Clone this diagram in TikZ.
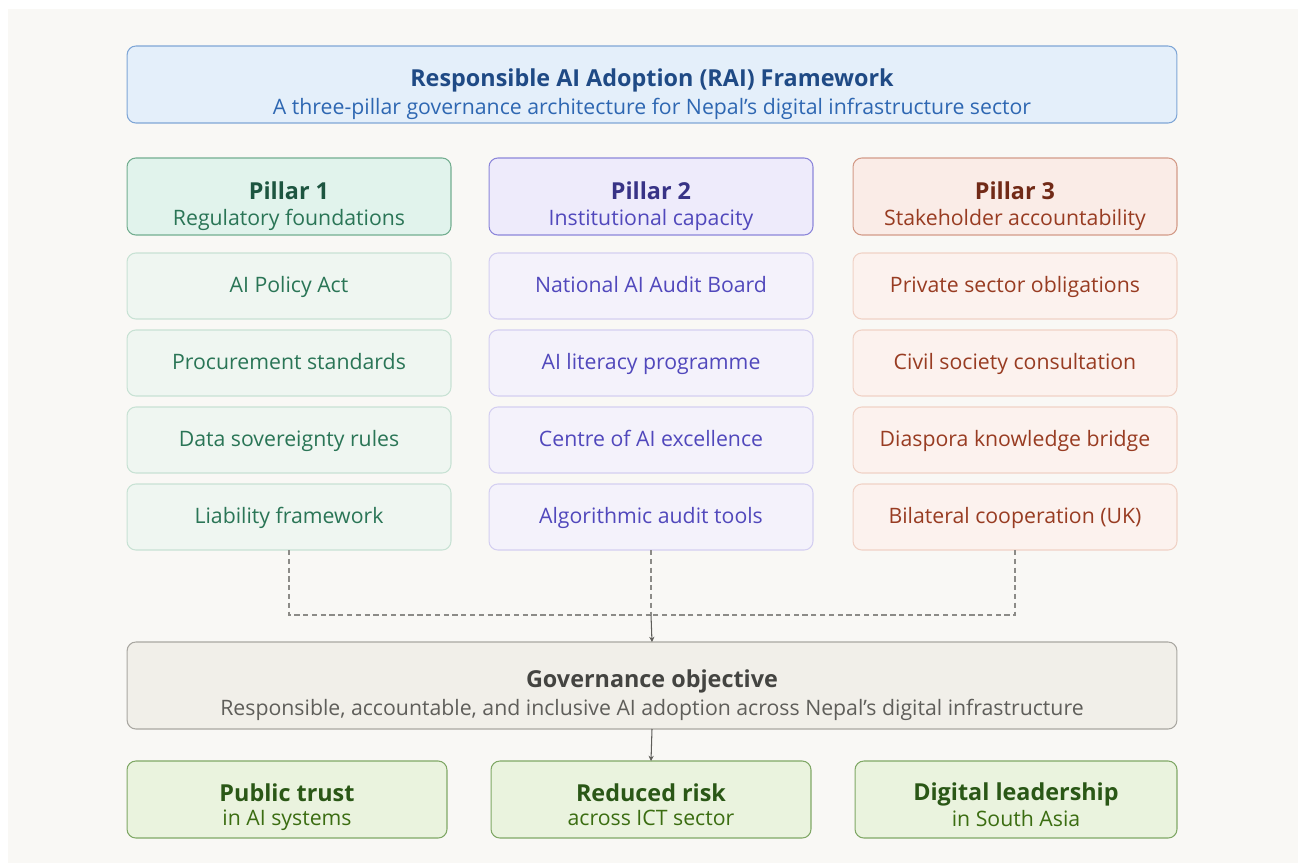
\documentclass[tikz,border=0pt]{standalone}
\usepackage{fontspec}
\setmainfont{Open Sans}
\usepackage{xcolor}
\usetikzlibrary{arrows.meta}

\definecolor{bgpaper}{HTML}{F9F8F5}
\definecolor{headfill}{HTML}{E4EFFA}
\definecolor{headline}{HTML}{7FA6D6}
\definecolor{headtext}{HTML}{1F4A85}
\definecolor{headsub}{HTML}{2E67B2}
\definecolor{onefill}{HTML}{E1F3EC}
\definecolor{oneline}{HTML}{73AE90}
\definecolor{onetext}{HTML}{1D5540}
\definecolor{onesub}{HTML}{2A7556}
\definecolor{oneitem}{HTML}{EFF6F1}
\definecolor{oneitemline}{HTML}{C8E2D4}
\definecolor{twofill}{HTML}{EEEBFB}
\definecolor{twoline}{HTML}{8D87DA}
\definecolor{twotext}{HTML}{383386}
\definecolor{twosub}{HTML}{5148BC}
\definecolor{twoitem}{HTML}{F4F2FB}
\definecolor{twoitemline}{HTML}{D4CFF1}
\definecolor{threefill}{HTML}{FAECE7}
\definecolor{threeline}{HTML}{D39B88}
\definecolor{threetext}{HTML}{712A17}
\definecolor{threesub}{HTML}{983C22}
\definecolor{threeitem}{HTML}{FCF2EE}
\definecolor{threeitemline}{HTML}{F0D2C6}
\definecolor{govfill}{HTML}{F1EFE9}
\definecolor{govline}{HTML}{A9A7A1}
\definecolor{govtext}{HTML}{444441}
\definecolor{govsub}{HTML}{5F5E5A}
\definecolor{endfill}{HTML}{EAF3DE}
\definecolor{endline}{HTML}{80A866}
\definecolor{endtext}{HTML}{2A5716}
\definecolor{endsub}{HTML}{3B6D11}
\definecolor{linkgray}{HTML}{8C8B87}
\definecolor{arrowgray}{HTML}{5F5E5A}

\newcommand{\bigtxt}{\fontsize{13.3}{16}\selectfont\bfseries}
\newcommand{\smalltxt}{\fontsize{12.1}{16}\selectfont}

\begin{document}
\begin{tikzpicture}[x=0.02cm, y=-0.02cm,
    box/.style={draw, rounded corners=5pt, line width=0.6pt, align=center,
        inner sep=0pt, outer sep=0pt},
    headbox/.style={box, minimum width=6.48cm, minimum height=1.54cm},
    itembox/.style={box, minimum width=6.48cm, minimum height=1.32cm,
        font=\smalltxt, text height=0.95em, text depth=0.25em},
    endbox/.style={box, minimum width=6.4cm, minimum height=1.54cm},
    txt/.style={align=center, inner sep=0pt, yshift=-5.5pt},
    link/.style={draw=linkgray, line width=0.6pt, dash pattern=on 3pt off 2pt},
    arr/.style={draw=arrowgray, line width=0.6pt, -{Stealth[length=3pt, width=3pt]}}]
    %KANVAS
    \useasboundingbox (0,0) rectangle (1298,863);
    \fill[white] (0,0) rectangle (1298,863);
    \fill[bgpaper] (8,9) rectangle (1298,863);
    %JUDUL
    \node[box, fill=headfill, draw=headline, minimum width=21cm, minimum height=1.54cm] (title) at (652,84.5) {};
    \node[txt] (titlet) at (title.center)
        {\color{headtext}\bigtxt Responsible AI Adoption (RAI) Framework\\[2.5pt]
         \color{headsub}\smalltxt A three-pillar governance architecture for Nepal’s digital infrastructure sector};
    %PILAR 1
    \node[headbox, fill=onefill, draw=oneline] (p1) at (289,196.5) {};
    \node[txt] (p1t) at (p1.center) {\color{onetext}\bigtxt Pillar 1\\[2.5pt]\color{onesub}\smalltxt Regulatory foundations};
    \node[itembox, fill=oneitem, draw=oneitemline, text=onesub] (p1a) at (289,286) {AI Policy Act};
    \node[itembox, fill=oneitem, draw=oneitemline, text=onesub] (p1b) at (289,363) {Procurement standards};
    \node[itembox, fill=oneitem, draw=oneitemline, text=onesub] (p1c) at (289,440) {Data sovereignty rules};
    \node[itembox, fill=oneitem, draw=oneitemline, text=onesub] (p1d) at (289,517) {Liability framework};
    %PILAR 2
    \node[headbox, fill=twofill, draw=twoline] (p2) at (651,196.5) {};
    \node[txt] (p2t) at (p2.center) {\color{twotext}\bigtxt Pillar 2\\[2.5pt]\color{twosub}\smalltxt Institutional capacity};
    \node[itembox, fill=twoitem, draw=twoitemline, text=twosub] (p2a) at (651,286) {National AI Audit Board};
    \node[itembox, fill=twoitem, draw=twoitemline, text=twosub] (p2b) at (651,363) {AI literacy programme};
    \node[itembox, fill=twoitem, draw=twoitemline, text=twosub] (p2c) at (651,440) {Centre of AI excellence};
    \node[itembox, fill=twoitem, draw=twoitemline, text=twosub] (p2d) at (651,517) {Algorithmic audit tools};
    %PILAR 3
    \node[headbox, fill=threefill, draw=threeline] (p3) at (1015,196.5) {};
    \node[txt] (p3t) at (p3.center) {\color{threetext}\bigtxt Pillar 3\\[2.5pt]\color{threesub}\smalltxt Stakeholder accountability};
    \node[itembox, fill=threeitem, draw=threeitemline, text=threesub] (p3a) at (1015,286) {Private sector obligations};
    \node[itembox, fill=threeitem, draw=threeitemline, text=threesub] (p3b) at (1015,363) {Civil society consultation};
    \node[itembox, fill=threeitem, draw=threeitemline, text=threesub] (p3c) at (1015,440) {Diaspora knowledge bridge};
    \node[itembox, fill=threeitem, draw=threeitemline, text=threesub] (p3d) at (1015,517) {Bilateral cooperation (UK)};
    %TUJUAN
    \node[box, fill=govfill, draw=govline, minimum width=21cm, minimum height=1.74cm] (gov) at (652,685.5) {};
    \node[txt] (govt) at (gov.center)
        {\color{govtext}\bigtxt Governance objective\\[2.5pt]
         \color{govsub}\smalltxt Responsible, accountable, and inclusive AI adoption across Nepal’s digital infrastructure};
    %HASIL
    \node[endbox, fill=endfill, draw=endline] (e1) at (287,799.5) {};
    \node[txt, yshift=1.2pt] (e1t) at (e1.center) {\color{endtext}\bigtxt Public trust\\[1.5pt]\color{endsub}\smalltxt in AI systems};
    \node[endbox, fill=endfill, draw=endline] (e2) at (651,799.5) {};
    \node[txt, yshift=1.2pt] (e2t) at (e2.center) {\color{endtext}\bigtxt Reduced risk\\[1.5pt]\color{endsub}\smalltxt across ICT sector\vphantom{y}};
    \node[endbox, fill=endfill, draw=endline, minimum width=6.44cm] (e3) at (1016,799.5) {};
    \node[txt, yshift=1.2pt] (e3t) at (e3.center) {\color{endtext}\bigtxt Digital leadership\\[1.5pt]\color{endsub}\smalltxt in South Asia\vphantom{y}};
    %GARIS PUTUS
    \coordinate (join) at (651,615);
    \draw[link] (p1d.south) |- (join);
    \draw[link] (p3d.south) |- (join);
    \draw[link] (p2d.south) -- (join);
    %PANAH
    \draw[arr] (join) -- (gov.north);
    \draw[arr] (gov.south) -- (e2.north);
\end{tikzpicture}
\end{document}
